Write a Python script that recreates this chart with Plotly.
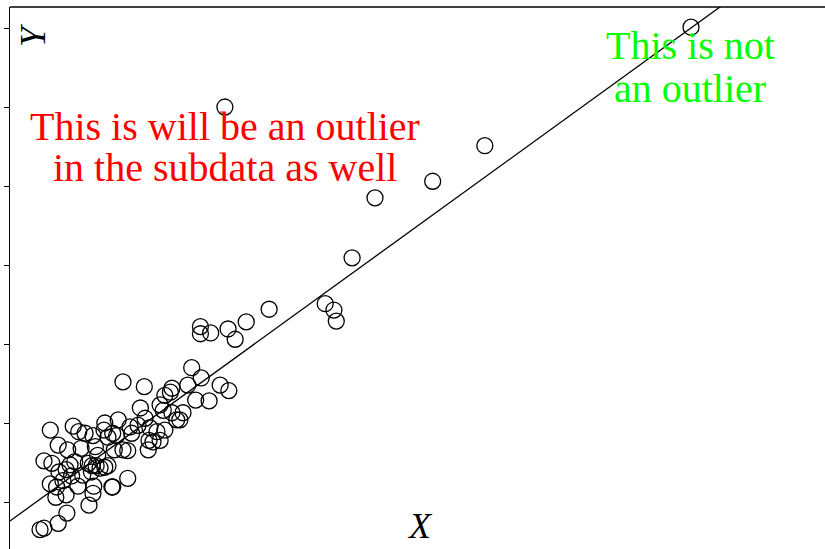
import plotly.graph_objects as go

# Scatter data
x_vals = [8.62, 2.72, 6.01, 5.35, 4.62, 4.33, 3.28, 3.99, 4.10, 4.13,
          2.41, 2.41, 2.54, 2.76, 2.99, 2.85, 2.30, 1.43, 1.70, 2.25,
          2.42, 2.66, 2.77, 2.05, 1.96, 2.03, 2.52, 2.35, 1.90, 1.65,
          1.71, 2.05, 2.15, 1.94, 1.37, 1.20, 1.52, 1.62, 1.77, 1.86,
          1.76, 1.90, 1.30, 1.35, 1.05, 0.95, 0.80, 0.87, 0.51, 0.61,
          1.24, 1.19, 1.08, 1.32, 1.49, 1.11, 0.90, 0.73, 0.43, 0.53,
          0.62, 0.76, 0.82, 0.99, 1.04, 1.09, 1.14, 1.20, 1.24, 1.03,
          0.92, 0.78, 0.71, 0.67, 0.59, 0.51, 0.86, 1.30, 1.49, 1.06,
          1.05, 0.58, 0.71, 1.00, 0.72, 0.61, 0.43, 0.38, 1.75, 1.81,
          1.96, 2.11, 2.19, 1.54, 1.29, 1.43]
y_vals = [6.01, 5.00, 4.51, 4.06, 3.85, 3.09, 2.44, 2.51, 2.43, 2.29,
          2.22, 2.13, 2.14, 2.19, 2.28, 2.06, 1.70, 1.52, 1.46, 1.48,
          1.57, 1.48, 1.41, 1.44, 1.35, 1.39, 1.28, 1.29, 1.23, 1.19,
          1.06, 1.13, 1.04, 1.16, 1.04, 1.00, 0.95, 0.97, 0.94, 0.89,
          0.78, 0.78, 0.87, 0.84, 0.84, 0.87, 0.96, 0.89, 0.91, 0.72,
          0.82, 0.91, 0.70, 0.66, 0.65, 0.59, 0.68, 0.66, 0.52, 0.49,
          0.38, 0.47, 0.51, 0.49, 0.46, 0.46, 0.43, 0.44, 0.46, 0.38,
          0.34, 0.33, 0.41, 0.27, 0.19, 0.23, 0.20, 0.19, 0.30, 0.20,
          0.11, 0.06, 0.09, -0.04, -0.14, -0.27, -0.33, -0.35, 0.66, 0.76,
          0.91, 1.04, 1.13, 0.87, 0.19, 0.66]

# Fitted line
line_slope = 0.724
line_intercept = -0.24
line_x = [0.0, 10.4]
line_y = [line_intercept + line_slope * v for v in line_x]

y_tick_vals = [0, 1, 2, 3, 4, 5, 6]

x_range = [0, 10.316]
y_range = [-0.595, 6.266]

red_lines = ["This is will be an outlier", "in the subdata as well"]
green_lines = ["This is not", "an outlier"]

serif = "Liberation Serif, Times New Roman, serif"

fig = go.Figure()
fig.add_trace(go.Scatter(x=line_x, y=line_y, mode="lines",
                         line=dict(color="black", width=1.3),
                         hoverinfo="skip", showlegend=False))
fig.add_trace(go.Scatter(x=x_vals, y=y_vals, mode="markers",
                         marker=dict(symbol="circle-open", size=16,
                                     color="black", line=dict(width=1.3)),
                         showlegend=False))

annos = []
for i, t in enumerate(red_lines):
    annos.append(dict(x=2.72, y=[4.75, 4.24][i], xref="x", yref="y", text=t,
                      showarrow=False, font=dict(family=serif, size=40, color="#ff0000")))
for i, t in enumerate(green_lines):
    annos.append(dict(x=8.61, y=[5.78, 5.24][i], xref="x", yref="y", text=t,
                      showarrow=False, font=dict(family=serif, size=40, color="#00ff00")))
annos.append(dict(x=5.19, y=-0.31, xref="x", yref="y", text="<i>X</i>",
                  showarrow=False, font=dict(family=serif, size=36, color="black")))
annos.append(dict(x=0.29, y=5.91, xref="x", yref="y", text="<i>Y</i>", textangle=-90,
                  showarrow=False, font=dict(family=serif, size=36, color="black")))

fig.update_layout(
    width=825, height=549,
    margin=dict(l=10, r=0, t=7, b=0),
    paper_bgcolor="white", plot_bgcolor="white",
    annotations=annos,
    shapes=[dict(type="line", xref="paper", yref="paper", x0=0, x1=1, y0=1, y1=1,
                 line=dict(color="black", width=1.3))],
    xaxis=dict(range=x_range, showgrid=False, zeroline=False, showline=False,
               showticklabels=False, ticks=""),
    yaxis=dict(range=y_range, showgrid=False, zeroline=False, showline=True,
               linecolor="black", linewidth=1.3, ticks="outside", ticklen=5,
               tickcolor="black", tickwidth=1.3, tickvals=y_tick_vals,
               showticklabels=False),
)

fig.write_html("out.html", config={"displayModeBar": False},
               post_script="document.body.style.margin='0';document.body.style.overflow='hidden';")
